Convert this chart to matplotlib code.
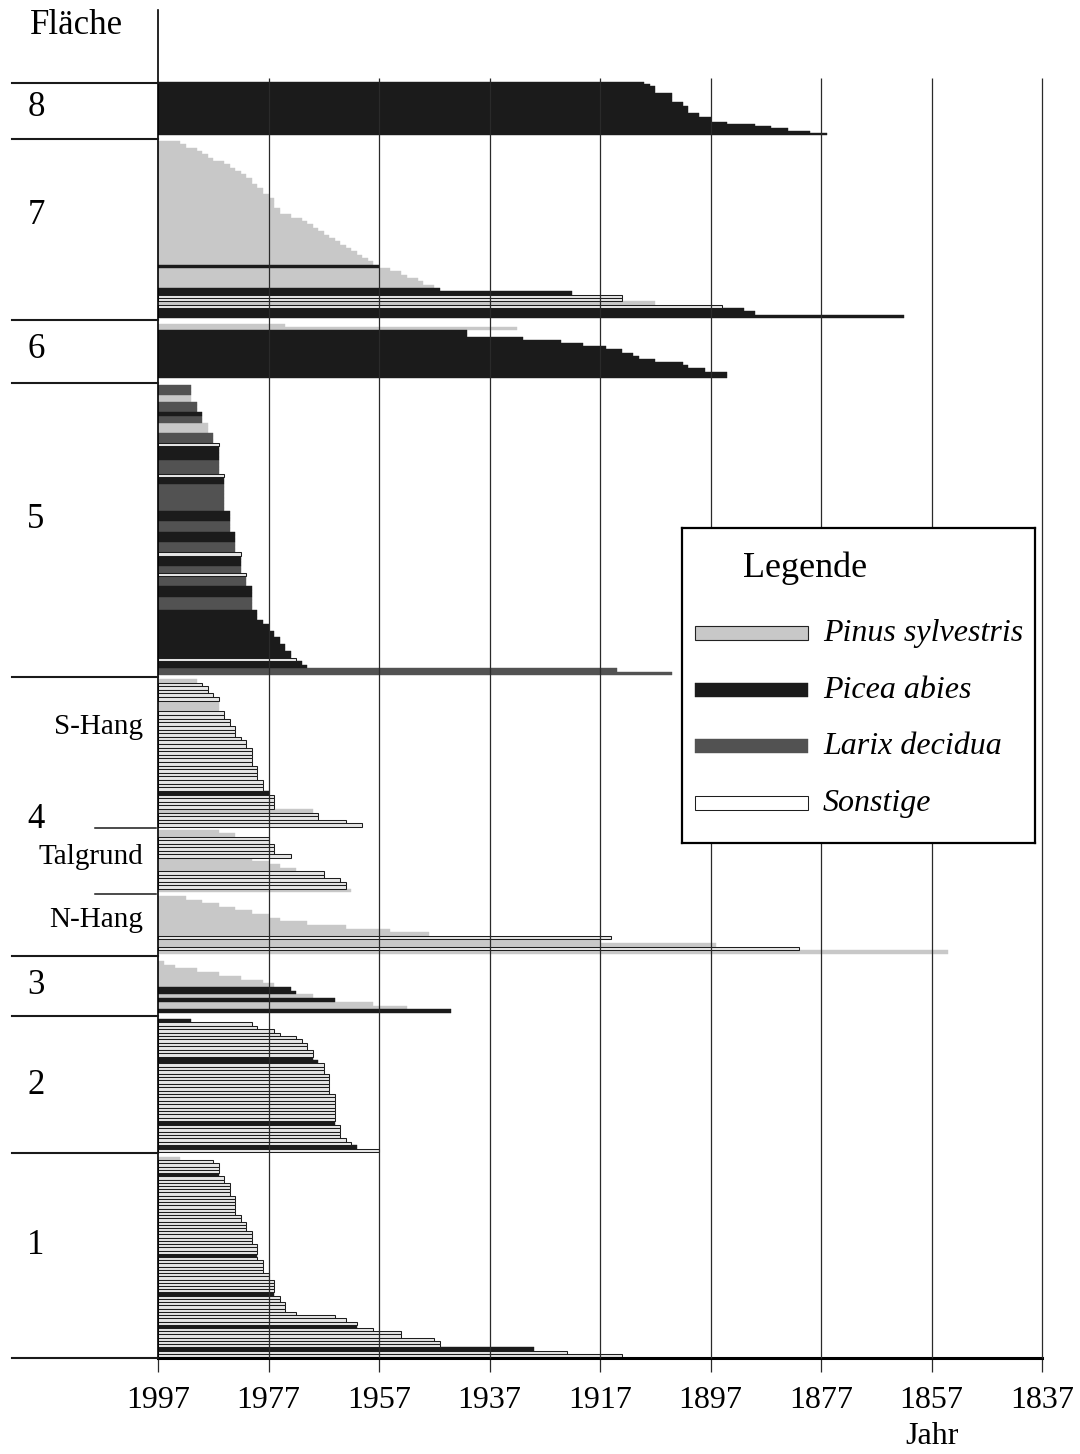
import numpy as np
import matplotlib.pyplot as plt
from matplotlib.lines import Line2D
from matplotlib.patches import Rectangle

# Keimjahr, Baumart und Anzahl Bäume je Fläche (oberste Zeile zuerst)
# P = Pinus sylvestris, F = Picea abies, L = Larix decidua, S = Sonstige
f8_year = [1909, 1908, 1907, 1904, 1902, 1901, 1899, 1897, 1894, 1889, 1886, 1883, 1879, 1876]
f8_art = "FFFFFFFFFFFFFF"
f8_n = [1, 1, 3, 4, 2, 3, 2, 2, 1, 1, 1, 1, 1, 1]

f7_year = [1993, 1992, 1990, 1989, 1988, 1987, 1985, 1984, 1983, 1982, 1981, 1980, 1979, 1978, 1977, 1976,
           1975, 1973, 1971, 1970, 1969, 1968, 1967, 1966, 1965, 1964, 1963, 1962, 1961, 1960, 1959, 1958,
           1957, 1955, 1953, 1952, 1950, 1949, 1947,
           1946, 1922, 1913, 1907, 1895, 1891, 1889, 1862]
f7_art = "PPPPPPPP" "PPPPPPPP" "PPPPPPPP" "PPPPPPPP" "F" "PPPPPP" "FFSPSFFF"
f7_n = [1, 1, 1, 1, 1, 1, 1, 1, 1, 1, 1, 2, 1, 2, 1, 3,
        2, 1, 1, 1, 1, 1, 1, 1, 1, 1, 1, 1, 1, 1, 1, 1,
        1, 1, 1, 1, 1, 1, 1,
        1, 1, 2, 1, 1, 1, 1, 1]

f6_year = [1974, 1932, 1941, 1931, 1924, 1920, 1916, 1913, 1911, 1910, 1907, 1902, 1901, 1898, 1894]
f6_art = "PPFFFFFFFFFFFFF"
f6_n = [1, 1, 2, 1, 1, 1, 1, 1, 1, 1, 1, 1, 1, 1, 2]

f5_year = [1991, 1991, 1990, 1989, 1989, 1988, 1987, 1986, 1986, 1986, 1985, 1985, 1985, 1984, 1984, 1983,
           1983, 1982, 1982, 1982, 1981, 1981, 1980, 1980, 1979, 1978, 1977, 1976, 1975, 1974, 1973, 1972,
           1971, 1970, 1914, 1904]
f5_art = "LPLFLPLS" "FLSFLFLF" "LSFLSLFL" "FFFFFFFS" "FFLL"
f5_n = [3, 2, 3, 1, 2, 3, 3, 1, 4, 4, 1, 2, 8, 3, 3, 3,
        3, 1, 3, 2, 1, 3, 3, 4, 3, 1, 2, 2, 2, 2, 2, 1,
        1, 1, 1, 1]

# Fläche 4: S-Hang, Talgrund, N-Hang
f4s_year = [1990, 1989, 1988, 1987, 1986, 1986, 1985, 1984, 1983, 1982, 1981, 1980, 1979, 1978, 1977, 1976,
            1969, 1968, 1963, 1960]
f4s_art = "PSSSSPSS" "SSSSSSFS" "PSSS"
f4s_n = [1, 1, 2, 1, 1, 3, 2, 2, 3, 1, 2, 5, 4, 3, 1, 4, 1, 2, 1, 1]

f4t_year = [1986, 1983, 1977, 1976, 1973, 1980, 1977, 1975, 1972, 1967, 1964, 1963, 1962]
f4t_art = "PPSSSPPPPSSSP"
f4t_n = [1, 1, 2, 3, 1, 1, 1, 1, 1, 2, 1, 2, 1]

f4n_year = [1992, 1989, 1986, 1983, 1980, 1977, 1975, 1970, 1963, 1955, 1948, 1915, 1917, 1896, 1881, 1854]
f4n_art = "PPPPPPPPPPPSPPSP"
f4n_n = [1, 1, 1, 1, 1, 1, 1, 1, 1, 1, 1, 1, 1, 1, 1, 1]

f3_year = [1996, 1994, 1990, 1986, 1982, 1978, 1976, 1973, 1972, 1969, 1965, 1958, 1952, 1944]
f3_art = "PPPPPPPFFPFPPF"
f3_n = [1, 1, 1, 1, 1, 1, 1, 1, 1, 1, 1, 1, 1, 1]

f2_year = [1991, 1980, 1979, 1976, 1975, 1972, 1971, 1970, 1969, 1969, 1968, 1967, 1966, 1965, 1965, 1964,
           1963, 1962, 1961, 1957]
f2_art = "FSSSSSSS" "SFFSSSFS" "SSFS"
f2_n = [1, 1, 1, 1, 1, 1, 1, 2, 2, 1, 1, 3, 6, 8, 1, 4, 1, 1, 1, 1]

f1_year = [1993, 1987, 1986, 1986, 1985, 1984, 1983, 1982, 1981, 1980, 1979, 1979, 1979, 1978, 1977, 1976,
           1976, 1975, 1974, 1972, 1965, 1963, 1961, 1961, 1958, 1953, 1947, 1946, 1929, 1923, 1913]
f1_art = "PSSFSSSS" "SSSFSSSS" "FSSSSSSF" "SSSSFSS"
f1_n = [1, 1, 3, 1, 2, 4, 6, 2, 3, 4, 3, 1, 1, 4, 2, 4,
        1, 2, 3, 1, 1, 1, 1, 1, 1, 2, 1, 2, 1, 1, 1]

tick_years = [1997, 1977, 1957, 1937, 1917, 1897, 1877, 1857, 1837]

W, H = 1080, 1454


def fx(x):
    return x / W


def fy(y):
    return 1 - y / H


plt.rcParams['font.family'] = ['Liberation Serif', 'DejaVu Serif']

style = {
    'P': dict(color='#c8c8c8', edgecolor='#c8c8c8', linewidth=0.3),
    'F': dict(color='#1b1b1b', edgecolor='#1b1b1b', linewidth=0.3),
    'L': dict(color='#525252', edgecolor='#525252', linewidth=0.3),
    'S': dict(color='#e6e6e6', edgecolor='#1e1e1e', linewidth=0.75),
}

fig = plt.figure(figsize=(W / 100, H / 100), dpi=100)
ax = fig.add_axes([fx(158), fy(1358), (1042 - 158) / W, (1358 - 10) / H])
ax.set_xlim(1997, 1837)
ax.set_ylim(1358, 10)

# (data, vertical span in px of the bars)
groups = [
    (f8_year, f8_art, f8_n, 82, 135),
    (f7_year, f7_art, f7_n, 141, 318),
    (f6_year, f6_art, f6_n, 324, 378),
    (f5_year, f5_art, f5_n, 385, 675),
    (f4s_year, f4s_art, f4s_n, 679, 827),
    (f4t_year, f4t_art, f4t_n, 830, 892),
    (f4n_year, f4n_art, f4n_n, 896, 954),
    (f3_year, f3_art, f3_n, 961, 1013),
    (f2_year, f2_art, f2_n, 1019, 1152),
    (f1_year, f1_art, f1_n, 1157, 1357),
]

for years, art, n, top, bot in groups:
    yrs = np.repeat(years, n)
    sp = np.repeat(list(art), n)
    h = (bot - top) / len(yrs)
    yc = top + h * (np.arange(len(yrs)) + 0.5)
    for code in 'PLFS':
        m = sp == code
        if m.any():
            ax.barh(yc[m], 1997 - yrs[m], left=yrs[m], height=h, zorder=2, **style[code])

# vertical grid lines
ax.vlines(tick_years[1:], 78, 1358, color='#2a2a2a', linewidth=0.9, zorder=3, clip_on=False)

ax.set_xticks(tick_years)
ax.set_xticklabels([str(t) for t in tick_years])
ax.tick_params(axis='x', length=10, width=0.9, pad=10, labelsize=23, color='#2a2a2a')
ax.set_yticks([])
for s in ['top', 'right']:
    ax.spines[s].set_visible(False)
ax.spines['left'].set_linewidth(1.2)
ax.spines['bottom'].set_linewidth(2.2)
ax.patch.set_alpha(0)

# Fläche separators left of the axis
for y in [83, 139, 320, 383, 677, 956, 1016, 1153, 1358]:
    fig.add_artist(Line2D([fx(12), fx(158)], [fy(y), fy(y)], color='#1a1a1a', linewidth=1.5))
for y in [828, 894]:
    fig.add_artist(Line2D([fx(95), fx(156)], [fy(y), fy(y)], color='#1a1a1a', linewidth=1.1))

fig.text(fx(30), fy(25), 'Fläche', fontsize=25, va='center', ha='left')
for lab, y in [('8', 108), ('7', 215), ('6', 350), ('5', 520), ('4', 820), ('3', 985), ('2', 1085), ('1', 1245)]:
    fig.text(fx(36), fy(y), lab, fontsize=25, va='center', ha='center')
for lab, y in [('S-Hang', 727), ('Talgrund', 857), ('N-Hang', 920)]:
    fig.text(fx(143), fy(y), lab, fontsize=21, va='center', ha='right')
fig.text(fx(932), fy(1437), 'Jahr', fontsize=23, va='center', ha='center')

# Legende
lg = fig.add_axes([fx(682), fy(843), 353 / W, 315 / H])
lg.set_xlim(0, 353)
lg.set_ylim(315, 0)
lg.set_xticks([])
lg.set_yticks([])
lg.set_facecolor('white')
for s in lg.spines.values():
    s.set_linewidth(1.6)
lg.text(61, 40, 'Legende', fontsize=26, va='center', ha='left')
leg_items = [('P', 'Pinus sylvestris', 105), ('F', 'Picea abies', 162),
             ('L', 'Larix decidua', 218), ('S', 'Sonstige', 275)]
for code, name, y in leg_items:
    face = style[code]['color']
    edge = style[code]['edgecolor']
    lw = style[code]['linewidth']
    if code == 'P':
        edge, lw = '#222222', 0.8
    if code == 'S':
        face = 'white'
    lg.add_patch(Rectangle((13, y - 7), 113, 14, facecolor=face, edgecolor=edge, linewidth=lw))
    lg.text(141, y, name, fontsize=23, style='italic', va='center', ha='left')

fig.savefig('out.png', dpi=100)
